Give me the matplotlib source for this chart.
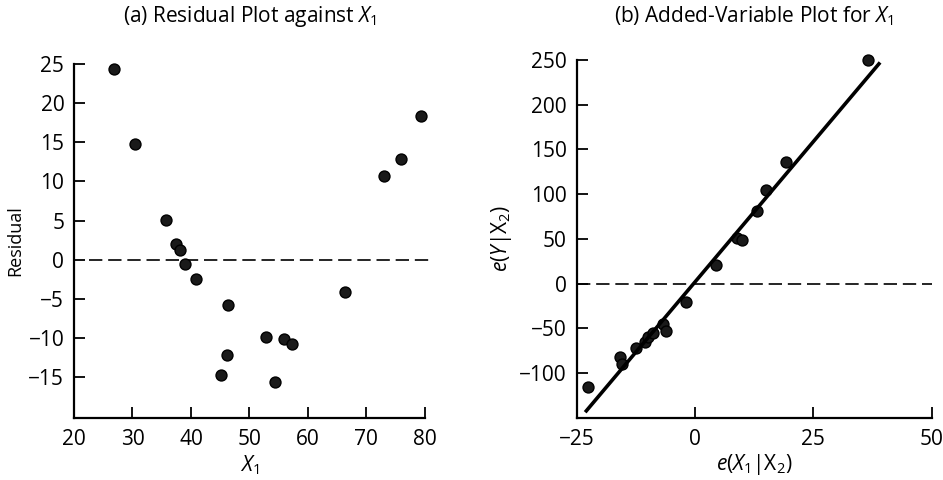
import matplotlib
matplotlib.use('Agg')
import matplotlib.pyplot as plt
import numpy as np

plt.rcParams['font.family'] = ['Open Sans', 'DejaVu Sans']
plt.rcParams['mathtext.fontset'] = 'custom'
plt.rcParams['mathtext.rm'] = 'Open Sans'
plt.rcParams['mathtext.it'] = 'Open Sans:italic'

# ── data: (a) residuals against X1 ─────────────────────────────────────────
x1 = [26.9, 30.5, 35.8, 37.4, 38.1, 39.0, 40.9, 46.3, 46.1, 45.1,
      52.8, 54.3, 55.9, 57.2, 66.3, 73.1, 75.9, 79.3]
resid = [24.4, 14.8, 5.1, 2.0, 1.2, -0.5, -2.4, -5.8, -12.2, -14.7,
         -9.8, -15.6, -10.1, -10.8, -4.1, 10.7, 12.9, 18.3]

# ── data: (b) added-variable plot ──────────────────────────────────────────
ex1 = [-22.7, -15.8, -15.4, -12.5, -10.6, -9.9, -8.9, -6.8, -6.1,
       -1.8, 4.4, 8.9, 9.9, 13.2, 14.9, 19.2, 36.5]
ey = [-116, -82.5, -90, -72, -65, -60, -55, -45, -53,
      -21, 20.5, 50.4, 48.5, 81.3, 104.9, 136.2, 250.4]
slope, intercept = 6.28, 1.7
fit_x = [-23.2, 39.1]

a_xticks = [20, 30, 40, 50, 60, 70, 80]
a_yticks = [-15, -10, -5, 0, 5, 10, 15, 20, 25]
b_xticks = [-25, 0, 25, 50]
b_yticks = [-100, -50, 0, 50, 100, 150, 200, 250]

FS = 15
fig = plt.figure(figsize=(9.43, 4.8), dpi=100, facecolor='white')
ax1 = fig.add_axes([0.0785, 0.129, 0.372, 0.738])
ax2 = fig.add_axes([0.6115, 0.130, 0.3765, 0.745])

def style(ax):
    for s in ['top', 'right']:
        ax.spines[s].set_visible(False)
    for s in ['left', 'bottom']:
        ax.spines[s].set_linewidth(1.6)
    ax.tick_params(direction='in', length=8, width=1.3, labelsize=FS)
    ax.tick_params(axis='x', pad=8)
    ax.tick_params(axis='y', pad=7)

dot = dict(s=62, facecolor='#1a1a1a', edgecolor='black', linewidths=1.0,
           zorder=3, clip_on=False)
dash = dict(color='black', lw=1.2, ls=(0, (8, 3.5)), clip_on=False, zorder=2)

# ── (a) ────────────────────────────────────────────────────────────────────
style(ax1)
ax1.scatter(x1, resid, **dot)
ax1.plot([22.5, 81.5], [0, 0], **dash)
ax1.set_xlim(20, 80)
ax1.set_ylim(-20.2, 25)
ax1.set_xticks(a_xticks)
ax1.set_yticks(a_yticks)
ax1.set_xlabel(r'$X_1$', fontsize=FS, labelpad=2)
ax1.set_ylabel('Residual', fontsize=13, labelpad=3)
ax1.set_title(r'(a) Residual Plot against $X_1$', fontsize=15, pad=30)

# ── (b) ────────────────────────────────────────────────────────────────────
style(ax2)
ax2.scatter(ex1, ey, **dot)
fx = np.array(fit_x)
ax2.plot(fx, slope * fx + intercept, color='black', lw=2.6, zorder=4,
         solid_capstyle='butt')
ax2.plot([-25, 50], [0, 0], **dash)
ax2.set_xlim(-25, 50)
ax2.set_ylim(-150, 250)
ax2.set_xticks(b_xticks)
ax2.set_xticklabels(['\u221225', '0', '25', '50'])
ax2.set_yticks(b_yticks)
ax2.set_yticklabels([('\u2212%d' % -v) if v < 0 else str(v) for v in b_yticks])
ax2.set_xlabel(r'$e(X_1|\mathrm{X}_2)$', fontsize=FS, labelpad=2)
ax2.set_ylabel(r'$e(Y|\mathrm{X}_2)$', fontsize=FS, labelpad=4)
ax2.set_title(r'(b) Added-Variable Plot for $X_1$', fontsize=15, pad=27)

fig.savefig('out.png', dpi=100, facecolor='white')
